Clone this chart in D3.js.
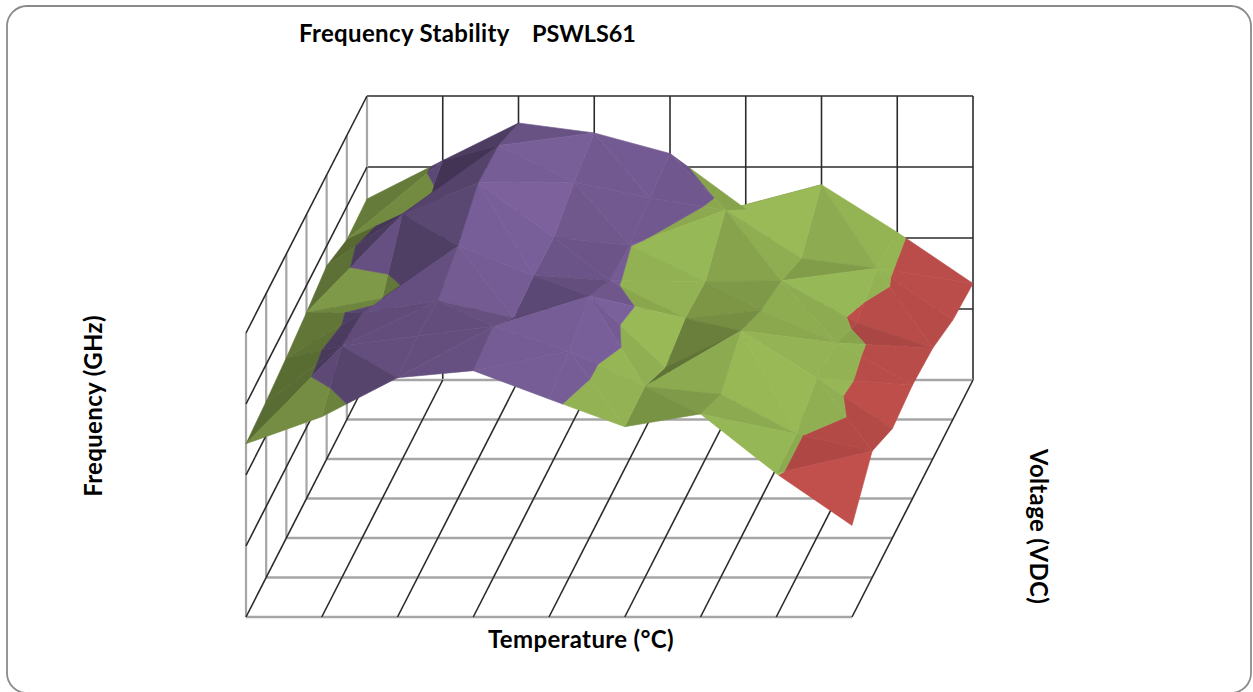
<!DOCTYPE html>
<html><head><meta charset="utf-8">
<script src="https://cdnjs.cloudflare.com/ajax/libs/d3/7.8.5/d3.min.js"></script>
<style>html,body{margin:0;padding:0;background:#fff;overflow:hidden}svg{display:block}text{font-family:Lato,"Open Sans",sans-serif;font-weight:700;fill:#000;font-size:24px;letter-spacing:.35px}</style>
</head><body><svg id="c" width="1253" height="692"></svg>
<script>
const titleLeft = "Frequency Stability";
const titleRight = "PSWLS61";
const zAxisTitle = "Frequency (GHz)";
const xAxisTitle = "Temperature (°C)";
const yAxisTitle = "Voltage (VDC)";
const bandEdges = [1, 2, 3, 4];
const bandColors = ["#c2504c", "#9bbc58", "#7d629e"];
const row0 = [2.44,2.82,3.37,3.47,3.07,2.68,2.86,2.02,1.29];
const row1 = [2.48,3.26,3.40,3.54,3.19,2.69,2.58,2.02,1.78];
const row2 = [2.54,3.17,3.34,3.10,3.41,2.40,2.92,2.25,1.54];
const row3 = [2.62,2.82,3.56,3.14,3.07,2.54,2.65,2.19,1.60];
const row4 = [2.72,3.45,3.89,3.12,3.01,2.50,2.51,1.92,1.56];
const row5 = [2.53,2.89,3.86,3.34,3.12,2.95,2.27,2.13,1.40];
const row6 = [2.55,3.09,3.62,3.48,3.19,2.41,2.75,2.08,1.36];
const rows = [row0,row1,row2,row3,row4,row5,row6];
const nI = row0.length-1, nJ = rows.length-1, nZ = 4;

const sx = d3.scaleLinear().domain([0,nI]).range([246,852]);
const dx = d3.scaleLinear().domain([0,nJ]).range([0,121]);
const fy = d3.scaleLinear().domain([0,nJ]).range([617,380]);
const zh = d3.scaleLinear().domain([0,nZ]).range([0,284]);
const P = (i,j,z)=>[sx(i)+dx(j), fy(j)-zh(z)];
const line = d3.line();
const svg = d3.select("#c");

svg.append("rect").attr("x",7).attr("y",6).attr("width",1244).attr("height",687)
  .attr("rx",20).attr("fill","#fff").attr("stroke","#8a8a8a").attr("stroke-width",1.8);

const dark="#2b2b2b", gray="#a6a6a6";
const seg=(a,b,c,w)=>svg.append("path").attr("d",line([a,b])).attr("stroke",c).attr("stroke-width",w).attr("fill","none");
d3.range(1,nI+1).forEach(i=>seg(P(i,nJ,0),P(i,nJ,nZ),dark,1.6));
d3.range(1,nZ+1).forEach(k=>seg(P(0,nJ,k),P(nI,nJ,k),dark,1.6));
d3.range(0,nJ+1).forEach(j=>seg(P(0,j,0),P(0,j,nZ),gray,2.2));
d3.range(1,nZ+1).forEach(k=>seg(P(0,0,k),P(0,nJ,k),dark,1.6));
d3.range(0,nJ+1).forEach(j=>seg(P(0,j,0),P(nI,j,0),gray,2.4));
d3.range(0,nI+1).forEach(i=>seg(P(i,0,0),P(i,nJ,0),dark,1.6));

const L=(()=>{const v=[0.62,-0.30,0.72];const m=Math.hypot(...v);return v.map(d=>d/m);})();
const K=0.85;
function shade(a,b,c){
  const u=[b[0]-a[0],b[1]-a[1],(b[2]-a[2])*K], v=[c[0]-a[0],c[1]-a[1],(c[2]-a[2])*K];
  let n=[u[1]*v[2]-u[2]*v[1],u[2]*v[0]-u[0]*v[2],u[0]*v[1]-u[1]*v[0]];
  if(n[2]<0) n=n.map(d=>-d);
  const m=Math.hypot(...n); const d=(n[0]*L[0]+n[1]*L[1]+n[2]*L[2])/m;
  return Math.min(1,0.42+0.58*Math.max(0,d));
}
function clip(poly,lo,hi){
  const cut=(pts,keep,lev)=>{const out=[];pts.forEach((p,k)=>{const q=pts[(k+1)%pts.length];
    const a=keep(p[2]),b=keep(q[2]); if(a)out.push(p);
    if(a!==b){const t=(lev-p[2])/(q[2]-p[2]);out.push([p[0]+t*(q[0]-p[0]),p[1]+t*(q[1]-p[1]),lev]);}});return out;};
  let r=cut(poly,z=>z>=lo,lo); if(r.length) r=cut(r,z=>z<=hi,hi); return r;
}
function tri(a,b,c){
  const s=shade(a,b,c);
  bandColors.forEach((col,k)=>{
    const r=clip([a,b,c],bandEdges[k],bandEdges[k+1]);
    if(r.length<3) return;
    const base=d3.rgb(col);
    const f=d3.rgb(base.r*s,base.g*s,base.b*s).formatHex();
    svg.append("path").attr("d",line(r.map(p=>P(p[0],p[1],p[2])))+"Z").attr("fill",f).attr("stroke",f).attr("stroke-width",0.6).attr("stroke-linejoin","round");
  });
}
const V=(i,j)=>[i,j,rows[j][i]];
for(let j=nJ-1;j>=0;j--){
  for(let i=nI-1;i>=0;i--){
    const a=V(i,j),b=V(i+1,j),c=V(i+1,j+1),d=V(i,j+1);
    if(a[2]+c[2]>=b[2]+d[2]){ tri(d,c,a); tri(a,b,c); }
    else { tri(d,c,b); tri(a,b,d); }
  }
}
svg.append("text").attr("x",299).attr("y",42).text(titleLeft);
svg.append("text").attr("x",532).attr("y",42).style("letter-spacing","0px").style("font-size","23.4px").text(titleRight);
svg.append("text").attr("transform","translate(102,406) rotate(-90)").attr("text-anchor","middle").text(zAxisTitle);
svg.append("text").attr("x",581).attr("y",648).attr("text-anchor","middle").text(xAxisTitle);
svg.append("text").attr("transform","translate(1030,526.5) rotate(90)").attr("text-anchor","middle").text(yAxisTitle);
</script></body></html>
